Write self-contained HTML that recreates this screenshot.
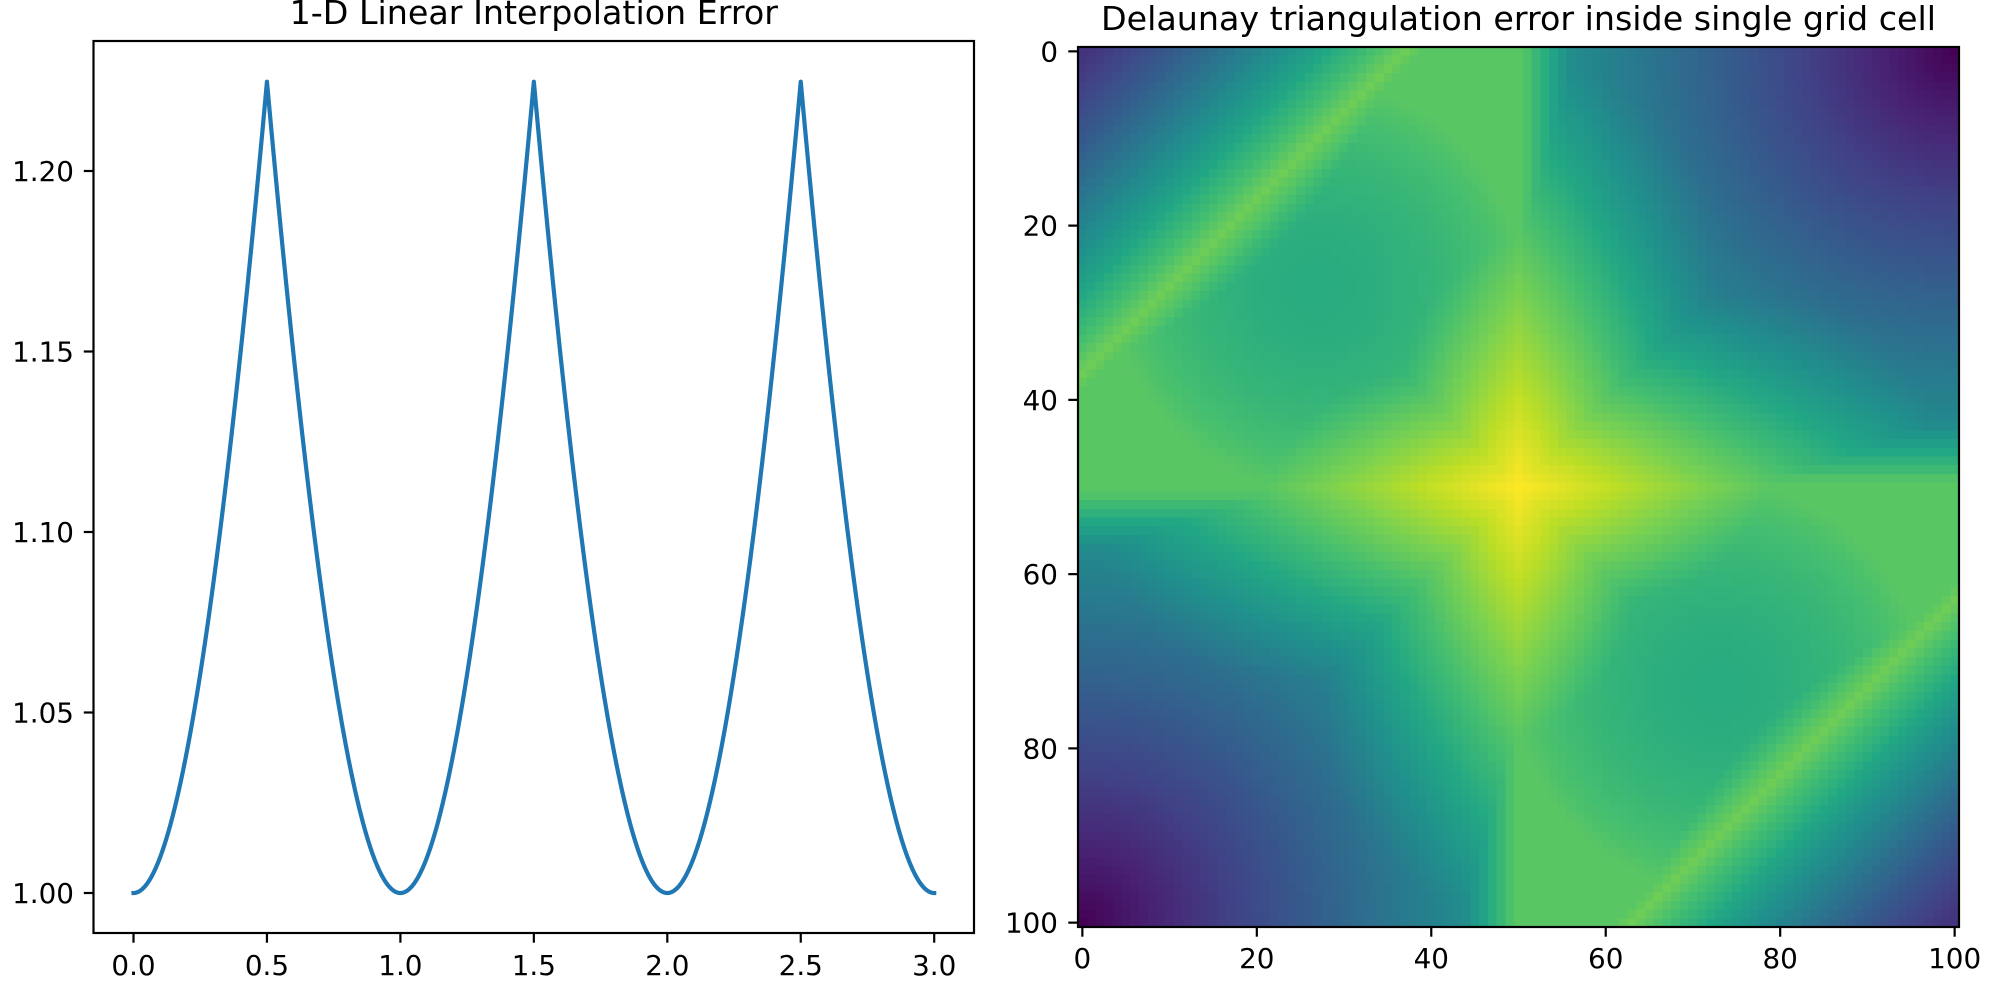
<!DOCTYPE html>
<html><head><meta charset="utf-8"><style>
html,body{margin:0;padding:0;background:#fff;}
#wrap{position:relative;width:2000px;height:1000px;overflow:hidden;font-family:"DejaVu Sans","Liberation Sans",sans-serif;}
canvas{position:absolute;left:1078px;top:47px;width:881px;height:880px;image-rendering:pixelated;}
svg{position:absolute;left:0;top:0;font-family:"DejaVu Sans","Liberation Sans",sans-serif;}
</style></head><body><div id="wrap">
<canvas id="c" width="101" height="101"></canvas>
<svg id="s" width="2000" height="1000" xmlns="http://www.w3.org/2000/svg"></svg>
</div>
<script>
const NS="http://www.w3.org/2000/svg",S=document.getElementById('s');
function el(t,a,txt){const e=document.createElementNS(NS,t);for(const k in a)e.setAttribute(k,a[k]);if(txt!==undefined)e.textContent=txt;S.appendChild(e);return e;}
const L=93.5,R=974,T=41,B=933;
let pts=[];
for(let i=0;i<=1200;i++){const x=3*i/1200;const d=Math.abs(x-Math.round(x));const f=Math.sqrt(1+2*d*d);
pts.push((133.5+266.9*x).toFixed(2)+','+(893-(f-1)/0.05*180.5).toFixed(2));}
el('polyline',{points:pts.join(' '),fill:'none',stroke:'#1f77b4','stroke-width':4.2,'stroke-linejoin':'round','stroke-linecap':'square'});
el('rect',{x:L,y:T,width:R-L,height:B-T,fill:'none',stroke:'#000','stroke-width':2.2});
const fs=27.8;
['0.0','0.5','1.0','1.5','2.0','2.5','3.0'].forEach((t,i)=>{const x=133.5+266.9*0.5*i;
el('line',{x1:x,y1:B,x2:x,y2:B+9.7,stroke:'#000','stroke-width':2.2});
el('text',{x:x,y:975,'font-size':fs,'text-anchor':'middle'},t);});
['1.00','1.05','1.10','1.15','1.20'].forEach((t,i)=>{const y=893-180.5*i;
el('line',{x1:L,y1:y,x2:L-9.7,y2:y,stroke:'#000','stroke-width':2.2});
el('text',{x:74,y:y+10,'font-size':fs,'text-anchor':'end'},t);});
el('text',{x:(L+R)/2,y:24,'font-size':33.3,'text-anchor':'middle'},'1-D Linear Interpolation Error');
const L2=1078,R2=1959,T2=47,B2=927;
el('rect',{x:L2,y:T2,width:R2-L2,height:B2-T2,fill:'none',stroke:'#000','stroke-width':2.2});
[0,20,40,60,80,100].forEach(v=>{const x=L2+(v+0.5)*881/101,y=T2+(v+0.5)*880/101;
el('line',{x1:x,y1:B2,x2:x,y2:B2+9.7,stroke:'#000','stroke-width':2.2});
el('text',{x:x,y:968,'font-size':fs,'text-anchor':'middle'},String(v));
el('line',{x1:L2,y1:y,x2:L2-9.7,y2:y,stroke:'#000','stroke-width':2.2});
el('text',{x:1058,y:y+10,'font-size':fs,'text-anchor':'end'},String(v));});
el('text',{x:(L2+R2)/2,y:30,'font-size':33.3,'text-anchor':'middle'},'Delaunay triangulation error inside single grid cell');
const V=[[68,1,84],[72,35,116],[64,67,135],[52,94,141],[41,120,142],[32,144,140],[34,167,132],[68,190,112],[121,209,81],[189,222,38],[253,231,37]];
function cm(v){v=Math.max(0,Math.min(1,v))*10;const i=Math.min(9,Math.floor(v)),f=v-i;return V[i].map((c,k)=>Math.round(c+(V[i+1][k]-c)*f));}
function val(u,w){
 if(w>0.5||(w==0.5&&u>0.5)){u=1-u;w=1-w;}
 let v;
 if(u<=0.5){
  const s=u+w;
  if(s<0.37){v=0.15+0.63*Math.pow(s/0.37,1.2);}
  else{const b=Math.min(0.74,0.62+2.2*((u-0.27)**2+(w-0.27)**2));v=Math.max(b,0.78-2*(s-0.37));}
 } else {
  const r=Math.hypot(1-u,w);v=1.05*Math.pow(r,0.95);
  v=Math.max(v,0.76-4.5*Math.abs(u-0.5),0.76-4*Math.abs(w-0.5));
 }
 const du=Math.abs(u-0.5),dw=Math.abs(w-0.5),rc=Math.hypot(du,dw);
 v=Math.max(v,1-0.9*rc-1.3*Math.min(du,dw));
 return v;
}
const cv=document.getElementById('c'),ctx=cv.getContext('2d'),img=ctx.createImageData(101,101);
for(let r=0;r<101;r++)for(let c=0;c<101;c++){const col=cm(val(c/100,r/100));const k=(r*101+c)*4;img.data[k]=col[0];img.data[k+1]=col[1];img.data[k+2]=col[2];img.data[k+3]=255;}
ctx.putImageData(img,0,0);
</script></body></html>
